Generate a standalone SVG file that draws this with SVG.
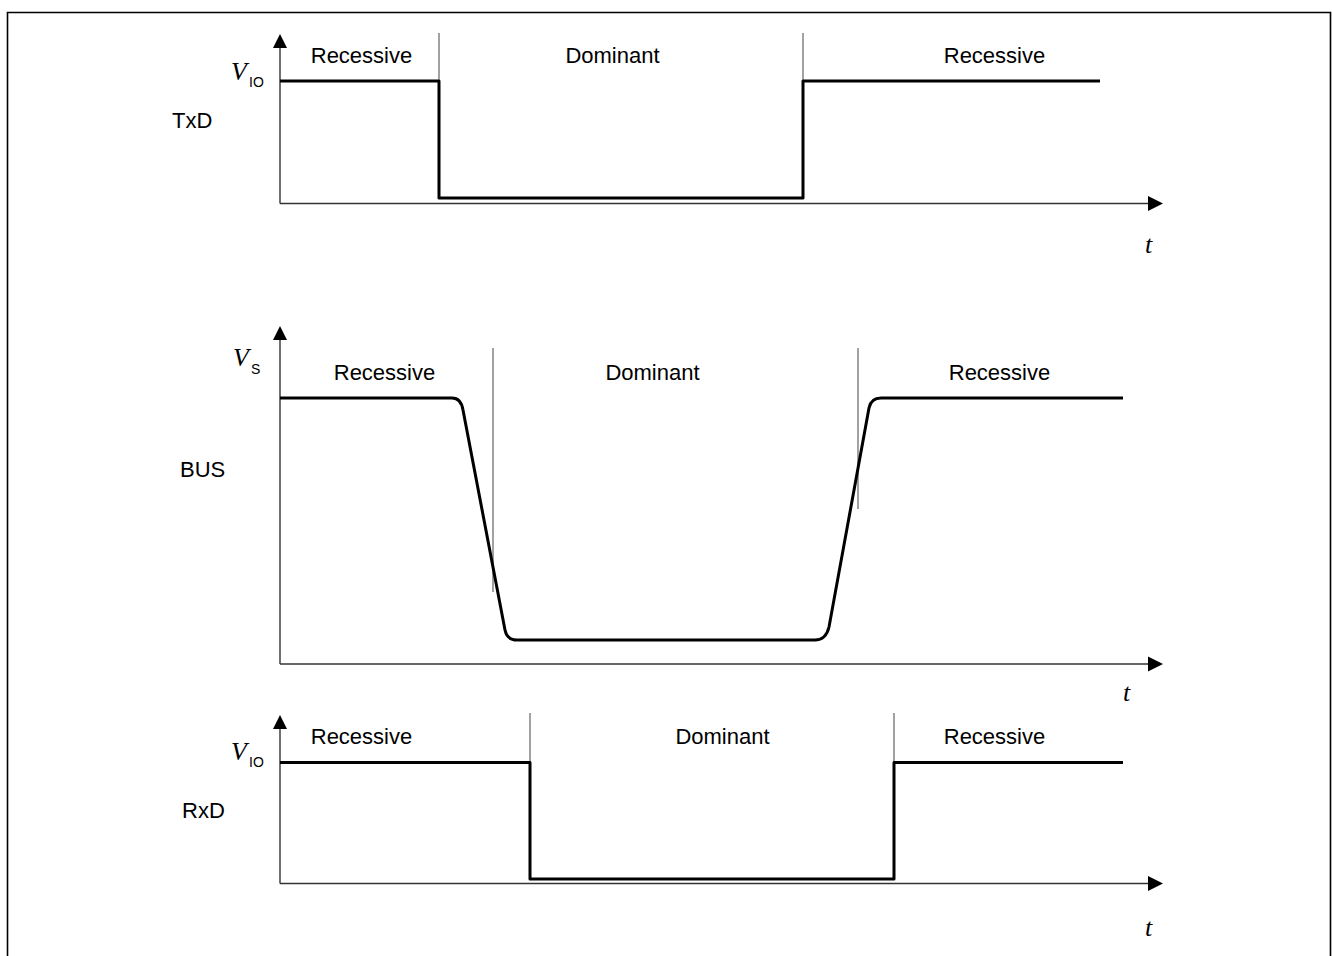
<svg xmlns="http://www.w3.org/2000/svg" width="1332" height="956" viewBox="0 0 1332 956">
<style>
.lbl{font-family:"Liberation Sans",Arial,sans-serif;font-size:22px;fill:#000}
.st{font-family:"Liberation Sans",Arial,sans-serif;font-size:22px;fill:#000;text-anchor:middle}
.v{font-family:"Liberation Serif","Times New Roman",serif;font-style:italic;font-size:26px;fill:#000}
.sub{font-family:"Liberation Sans",Arial,sans-serif;font-size:14px;fill:#000}
.axis{stroke:#333;stroke-width:1.4;fill:none}
.sep{stroke:#555;stroke-width:1.1;fill:none}
.sig{stroke:#000;stroke-width:3;fill:none;stroke-linejoin:round;stroke-linecap:butt}
.ah{fill:#000}
</style>
<rect width="1332" height="956" fill="#fff"/>
<path d="M7.5,960 V12.5 H1330.5 V960" stroke="#000" stroke-width="1.6" fill="none"/>

<g id="txd">
  <g class="axes">
    <line class="axis" x1="280" y1="46" x2="280" y2="203.5"/>
    <line class="axis" x1="280" y1="203.5" x2="1150" y2="203.5"/>
    <polygon class="ah" points="280,34 273,48 287,48"/>
    <polygon class="ah" points="1163,203.5 1148,196 1148,211"/>
  </g>
  <line class="sep" x1="439" y1="33" x2="439" y2="81"/>
  <line class="sep" x1="803" y1="33" x2="803" y2="81"/>
  <path class="sig" d="M280,81 H439 V198 H803 V81 H1100"/>
  <text class="st" x="361.5" y="63">Recessive</text>
  <text class="st" x="612.5" y="63">Dominant</text>
  <text class="st" x="994.5" y="63">Recessive</text>
  <text class="v" x="231" y="80">V</text><text class="sub" x="249" y="87">IO</text>
  <text class="lbl" x="172" y="128">TxD</text>
  <text class="v" x="1145" y="253">t</text>
</g>

<g id="bus">
  <g class="axes">
    <line class="axis" x1="280" y1="338" x2="280" y2="664"/>
    <line class="axis" x1="280" y1="664" x2="1150" y2="664"/>
    <polygon class="ah" points="280,326 273,340 287,340"/>
    <polygon class="ah" points="1163,664 1148,656.5 1148,671.5"/>
  </g>
  <line class="sep" x1="493" y1="348" x2="493" y2="592"/>
  <line class="sep" x1="858" y1="348" x2="858" y2="509"/>
  <path class="sig" d="M280,398 H452 Q461,398 463,410 L505,630 Q507,640 517,640 H815 Q826,640 829,627 L869,408 Q871,398 881,398 H1123"/>
  <text class="st" x="384.5" y="380">Recessive</text>
  <text class="st" x="652.5" y="380">Dominant</text>
  <text class="st" x="999.5" y="380">Recessive</text>
  <text class="v" x="233" y="366">V</text><text class="sub" x="251" y="374">S</text>
  <text class="lbl" x="180" y="477">BUS</text>
  <text class="v" x="1123" y="701">t</text>
</g>

<g id="rxd">
  <g class="axes">
    <line class="axis" x1="280" y1="727" x2="280" y2="883.5"/>
    <line class="axis" x1="280" y1="883.5" x2="1150" y2="883.5"/>
    <polygon class="ah" points="280,715 273,729 287,729"/>
    <polygon class="ah" points="1163,883.5 1148,876 1148,891"/>
  </g>
  <line class="sep" x1="530" y1="713" x2="530" y2="762"/>
  <line class="sep" x1="894" y1="713" x2="894" y2="762"/>
  <path class="sig" d="M280,762.5 H530 V879 H894 V762.5 H1123"/>
  <text class="st" x="361.5" y="744">Recessive</text>
  <text class="st" x="722.5" y="744">Dominant</text>
  <text class="st" x="994.5" y="744">Recessive</text>
  <text class="v" x="231" y="760">V</text><text class="sub" x="249" y="767">IO</text>
  <text class="lbl" x="182" y="818">RxD</text>
  <text class="v" x="1145" y="936">t</text>
</g>
</svg>
